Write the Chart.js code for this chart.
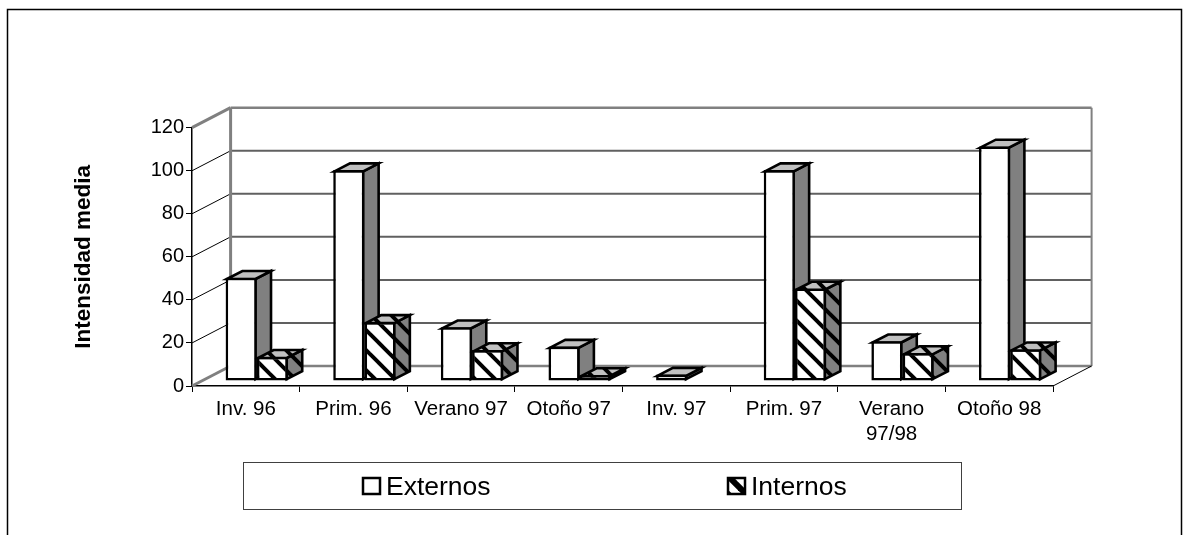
<!DOCTYPE html>
<html>
<head>
<meta charset="utf-8">
<title>Intensidad media</title>
<script src="https://cdn.jsdelivr.net/npm/chart.js@4"></script>
<style>
  html, body { margin: 0; padding: 0; background: #fff; overflow: hidden; }
  #wrap { position: relative; width: 1183px; height: 535px; }
  canvas { display: block; }
</style>
</head>
<body>
<div id="wrap"><canvas id="chart" width="1183" height="535"></canvas></div>
<script>
const categories = ['Inv. 96', 'Prim. 96', 'Verano 97', 'Otoño 97', 'Inv. 97', 'Prim. 97', ['Verano', '97/98'], 'Otoño 98'];
const externos = [48, 98, 25, 16, 3, 98, 18.5, 109];
const internos = [11.3, 27.5, 14.4, 2.8, 0, 43, 13, 14.8];
const yTicks = [0, 20, 40, 60, 80, 100, 120];

const FONT = '"Liberation Sans", Arial, sans-serif';

// the back wall sits up and to the right of the axes
const WALL_DX = 38.6, WALL_DY = 20;
// bars stand a bit inside the floor, and have their own small depth
const BAR_SHIFT_X = 11, BAR_SHIFT_Y = 5;
const BAR_DX = 15.5, BAR_DY = 8;
const EDGE = 2.6;

function stripes(bg, tile, width) {
  const c = document.createElement('canvas');
  c.width = tile;
  c.height = tile;
  const g = c.getContext('2d');
  g.fillStyle = bg;
  g.fillRect(0, 0, tile, tile);
  g.strokeStyle = '#000';
  g.lineWidth = width;
  [-tile, 0, tile].forEach(off => {
    g.beginPath();
    g.moveTo(-tile, -tile + off);
    g.lineTo(tile * 2, tile * 2 + off);
    g.stroke();
  });
  return g.createPattern(c, 'repeat');
}

const patFront = stripes('#fff', 20, 4);
const patSide = stripes('#808080', 20, 4);
const patTop = stripes('#c0c0c0', 20, 4);
const patLegend = stripes('#fff', 18, 6);

function face(ctx, pts, fill) {
  ctx.beginPath();
  pts.forEach((p, i) => i ? ctx.lineTo(p[0], p[1]) : ctx.moveTo(p[0], p[1]));
  ctx.closePath();
  ctx.fillStyle = fill;
  ctx.fill();
  ctx.stroke();
}

function line(ctx, x1, y1, x2, y2, color, width) {
  ctx.beginPath();
  ctx.moveTo(x1, y1);
  ctx.lineTo(x2, y2);
  ctx.strokeStyle = color;
  ctx.lineWidth = width;
  ctx.stroke();
}

// side and top faces of one dataset's bars
function drawFaces(chart, index) {
  const ctx = chart.ctx;
  const striped = index === 1;
  const values = chart.data.datasets[index].data;
  ctx.save();
  ctx.translate(BAR_SHIFT_X, -BAR_SHIFT_Y);
  ctx.strokeStyle = '#000';
  ctx.lineWidth = EDGE;
  ctx.lineJoin = 'miter';
  chart.getDatasetMeta(index).data.forEach((bar, i) => {
    if (!values[i]) return;
    const p = bar.getProps(['x', 'y', 'base', 'width'], true);
    const l = p.x - p.width / 2 + EDGE / 2, r = p.x + p.width / 2 - EDGE / 2;
    const t = p.y + EDGE / 2, b = p.base - EDGE / 2;
    face(ctx, [[r, t], [r + BAR_DX, t - BAR_DY], [r + BAR_DX, b - BAR_DY], [r, b]], striped ? patSide : '#808080');
    face(ctx, [[l, t], [l + BAR_DX, t - BAR_DY], [r + BAR_DX, t - BAR_DY], [r, t]], striped ? patTop : '#c0c0c0');
  });
  ctx.restore();
}

const walls = {
  id: 'walls',
  beforeDatasetsDraw(chart) {
    const ctx = chart.ctx;
    const y = chart.scales.y;
    const x = chart.scales.x;
    yTicks.forEach(t => {
      const py = y.getPixelForValue(t);
      const outer = t === 0 || t === yTicks[yTicks.length - 1];
      line(ctx, x.left, py, x.left + WALL_DX, py - WALL_DY, outer ? '#808080' : '#000', outer ? 3 : 1);
      line(ctx, x.left + WALL_DX, py - WALL_DY, x.right + WALL_DX, py - WALL_DY, outer ? '#808080' : '#606060', outer ? 2.5 : 2);
    });
    const top = y.getPixelForValue(120) - WALL_DY;
    const bottom = y.getPixelForValue(0) - WALL_DY;
    line(ctx, x.left + WALL_DX, top, x.left + WALL_DX, bottom, '#808080', 3);
    line(ctx, x.right + WALL_DX, top, x.right + WALL_DX, bottom, '#808080', 2);
    line(ctx, x.right, y.getPixelForValue(0), x.right + WALL_DX, bottom, '#000', 1);
    // Chart.js paints the second dataset first, the Externos faces have to go under it
    drawFaces(chart, 0);
  },
  beforeDatasetDraw(chart) {
    chart.ctx.save();
    chart.ctx.translate(BAR_SHIFT_X, -BAR_SHIFT_Y);
  },
  afterDatasetDraw(chart, args) {
    chart.ctx.restore();
    if (args.index === 1) drawFaces(chart, 1);
  },
  afterDraw(chart) {
    const ctx = chart.ctx;
    // outer frame, open at the bottom
    ctx.beginPath();
    ctx.moveTo(7.5, 535);
    ctx.lineTo(7.5, 9.5);
    ctx.lineTo(1181.5, 9.5);
    ctx.lineTo(1181.5, 535);
    ctx.strokeStyle = '#000';
    ctx.lineWidth = 1.5;
    ctx.stroke();
    // legend box
    ctx.strokeStyle = '#404040';
    ctx.lineWidth = 1;
    ctx.strokeRect(243.5, 462.5, 718, 47);
    ctx.strokeStyle = '#000';
    ctx.lineWidth = 2.5;
    ctx.fillStyle = '#fff';
    ctx.fillRect(363, 478, 17, 16);
    ctx.strokeRect(363, 478, 17, 16);
    ctx.fillStyle = patLegend;
    ctx.fillRect(728, 478, 17, 16);
    ctx.strokeRect(728, 478, 17, 16);
    ctx.fillStyle = '#000';
    ctx.font = '26.5px ' + FONT;
    ctx.textAlign = 'left';
    ctx.textBaseline = 'alphabetic';
    ctx.fillText(chart.data.datasets[0].label, 386, 495);
    ctx.fillText(chart.data.datasets[1].label, 751, 495);
  }
};

new Chart(document.getElementById('chart'), {
  type: 'bar',
  data: {
    labels: categories,
    datasets: [
      { label: 'Externos', data: externos, backgroundColor: '#fff' },
      { label: 'Internos', data: internos, backgroundColor: patFront }
    ]
  },
  options: {
    responsive: false,
    animation: false,
    clip: false,
    layout: { padding: { left: 0, right: 130, top: 127.7, bottom: 0 } },
    datasets: {
      bar: {
        borderColor: '#000',
        borderWidth: EDGE,
        borderSkipped: false,
        categoryPercentage: 0.58,
        barPercentage: 1
      }
    },
    plugins: {
      legend: { display: false },
      tooltip: { enabled: false }
    },
    scales: {
      x: {
        afterFit: s => { s.height = 149; },
        grid: { offset: true, drawOnChartArea: false, color: '#000', tickLength: 6 },
        border: { color: '#000', width: 1.5 },
        ticks: {
          color: '#000',
          autoSkip: false,
          maxRotation: 0,
          padding: 5,
          font: { family: FONT, size: 20.5 }
        }
      },
      y: {
        min: 0,
        max: 120,
        afterFit: s => { s.width = 192; },
        afterBuildTicks: s => { s.ticks = yTicks.map(v => ({ value: v })); },
        grid: { drawOnChartArea: false, color: '#000', tickLength: 6 },
        border: { color: '#000', width: 1.5 },
        ticks: {
          color: '#000',
          padding: 2,
          font: { family: FONT, size: 20 }
        },
        title: {
          display: true,
          text: 'Intensidad media',
          color: '#000',
          padding: { top: 70, bottom: 0 },
          font: { family: FONT, size: 22.5, weight: 'bold' }
        }
      }
    }
  },
  plugins: [walls]
});
</script>
</body>
</html>
